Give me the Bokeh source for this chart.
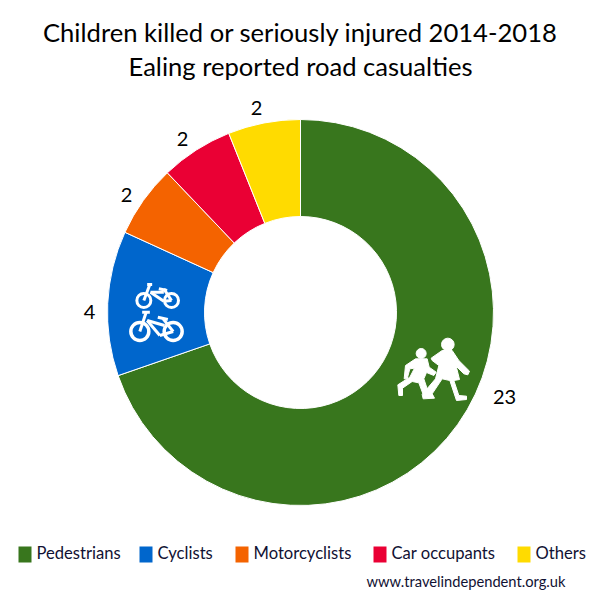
from math import pi
import numpy as np
from bokeh.plotting import figure
from bokeh.models import Range1d
from bokeh.core.properties import value
from bokeh.embed import file_html
from bokeh.resources import INLINE

categories = ["Pedestrians", "Cyclists", "Motorcyclists", "Car occupants", "Others"]
counts = [23, 4, 2, 2, 2]
colors = ["#38761D", "#0066CC", "#F46300", "#EA0034", "#FFDB00"]
title_lines = ["Children killed or seriously injured 2014-2018", "Ealing reported road casualties"]
credit = "www.travelindependent.org.uk"
FONT = "Lato"

W = H = 592
CX, CY = 300, 312          # pie centre in picture pixels
def X(px): return np.asarray(px, float) - CX
def Y(py): return CY - np.asarray(py, float)

p = figure(width=W, height=H, output_backend="svg", toolbar_location=None,
           x_range=Range1d(0 - CX, W - CX), y_range=Range1d(CY - H, CY),
           min_border=0, outline_line_color=None, background_fill_color="white")
p.axis.visible = False
p.grid.visible = False

# ring
vals = np.array(counts, float)
fr = np.cumsum(np.r_[0, vals]) / vals.sum()
ang = pi / 2 - 2 * pi * fr
p.annular_wedge(x=0, y=0, inner_radius=96, outer_radius=193,
                start_angle=ang[1:], end_angle=ang[:-1], color=colors,
                line_color="white", line_width=1)

# value labels around the ring
lab_x = [504, 89, 126, 182, 256]
lab_y = [396, 311, 194, 138, 107]
for lx, ly, c in zip(lab_x, lab_y, counts):
    p.text(x=[X(lx)], y=[Y(ly)], text=[str(c)], text_font=value(FONT), text_font_size="20px",
           text_color="black", text_align="center", text_baseline="middle")

# titles
for ty, t in zip([31, 65], title_lines):
    p.text(x=[X(300)], y=[Y(ty)], text=[t], text_font=value(FONT), text_font_size="25.6px",
           text_color="black", text_align="center", text_baseline="middle")

# legend
sq_x = [18, 139, 235, 373, 517]
for sx, col, name in zip(sq_x, colors, categories):
    p.quad(left=X(sx), right=X(sx + 13), top=Y(546), bottom=Y(562), color=col, line_color=None)
    p.text(x=[X(sx + 18)], y=[Y(552)], text=[name], text_font=value(FONT), text_font_size="16.6px",
           text_color="#111133", text_align="left", text_baseline="middle")
p.text(x=[X(366)], y=[Y(580)], text=[credit], text_font=value(FONT), text_font_size="14.7px",
       text_color="#111133", text_align="left", text_baseline="middle")

# school-children pictogram (zoom pixels, 3x, origin 390,325)
def kid(poly):
    a = np.array(poly, float)
    return X(390 + a[:, 0] / 3), Y(325 + a[:, 1] / 3)
big = [(155,75),(185,75),(205,105),(237,137),(232,148),(220,145),(197,122),(207,162),(190,165),
       (205,210),(228,212),(228,222),(198,225),(178,165),(155,160),(125,205),(132,218),(98,220),
       (95,207),(135,160),(145,120),(125,105),(122,98)]
small = [(75,100),(110,100),(116,125),(137,140),(130,150),(108,141),(100,160),(115,205),(98,207),
         (85,172),(65,168),(36,188),(36,210),(25,210),(22,178),(58,155),(72,128),(58,130),(50,160),
         (41,160),(45,120)]
for poly in (big, small):
    kx, ky = kid(poly)
    p.patch(kx, ky, color="white", line_color="white")
for hx, hy, r in [(172, 57, 19), (92, 84, 15)]:
    p.circle(x=[X(390 + hx / 3)], y=[Y(325 + hy / 3)], radius=r / 3, color="white")

# bicycle pictograms (zoom pixels, 3x, origin 100,270)
def bx(v): return X(100 + np.array(v, float) / 3)
def by(v): return Y(270 + np.array(v, float) / 3)
wheels = [(130, 90, 21, 3), (213, 90, 21, 3), (118, 183, 27, 3.5), (218, 183, 27, 3.5)]
for wx, wy, r, lw in wheels:
    p.circle(x=[bx(wx)], y=[by(wy)], radius=r / 3, fill_color=None, line_color="white", line_width=lw)
segments = [
    (140, 42, 155, 42), (148, 42, 130, 90), (150, 65, 190, 65), (150, 65, 190, 92),
    (190, 92, 213, 90), (190, 55, 213, 90), (175, 55, 200, 60),
    (125, 125, 148, 125), (137, 125, 118, 183), (140, 150, 192, 165), (140, 150, 178, 195),
    (178, 195, 218, 183), (188, 145, 218, 183), (172, 140, 202, 147),
]
for x0, y0, x1, y1 in segments:
    p.line(bx([x0, x1]), by([y0, y1]), line_color="white", line_width=3)

open("out.html", "w").write(file_html(p, INLINE))
